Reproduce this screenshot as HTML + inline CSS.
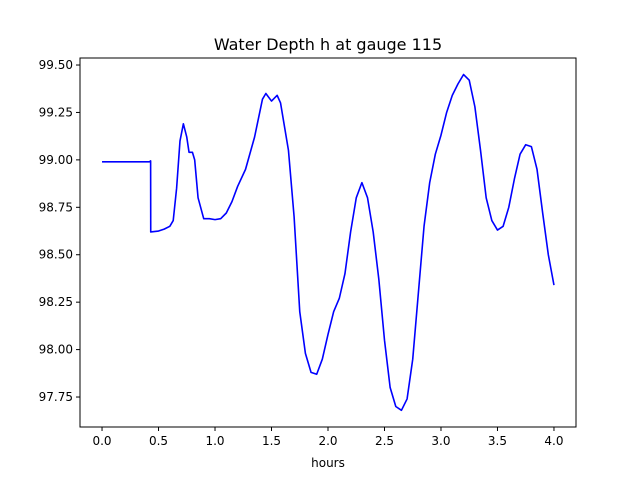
<!DOCTYPE html>
<html><head><meta charset="utf-8"><style>
body{margin:0;background:#fff;}
svg text{font-family:"DejaVu Sans","Liberation Sans",sans-serif;}
</style></head><body>
<svg id="chart" width="640" height="480" xmlns="http://www.w3.org/2000/svg">
<rect width="640" height="480" fill="#fff"/>
<text x="328" y="50" font-size="16" text-anchor="middle">Water Depth h at gauge 115</text>
<g id="axes"></g>
<text x="328" y="467" font-size="12" text-anchor="middle">hours</text>
</svg>
<script>
const hours=[0.0,0.42,0.43,0.431,0.5,0.55,0.6,0.63,0.66,0.69,0.72,0.75,0.77,0.8,0.82,0.85,0.9,0.95,1.0,1.05,1.1,1.15,1.2,1.27,1.35,1.42,1.45,1.5,1.55,1.58,1.65,1.7,1.75,1.8,1.85,1.9,1.95,2.0,2.05,2.1,2.15,2.2,2.25,2.3,2.35,2.4,2.45,2.5,2.55,2.6,2.65,2.7,2.75,2.8,2.85,2.9,2.95,3.0,3.05,3.1,3.15,3.2,3.25,3.3,3.35,3.4,3.45,3.5,3.55,3.6,3.65,3.7,3.75,3.8,3.85,3.9,3.95,4.0];
const depth=[98.99,98.99,98.995,98.62,98.625,98.635,98.65,98.68,98.85,99.1,99.19,99.12,99.04,99.04,99.0,98.8,98.69,98.69,98.685,98.69,98.72,98.78,98.86,98.95,99.12,99.32,99.35,99.31,99.34,99.30,99.05,98.7,98.2,97.98,97.88,97.87,97.95,98.08,98.2,98.27,98.4,98.62,98.8,98.88,98.8,98.62,98.37,98.05,97.8,97.7,97.68,97.74,97.95,98.3,98.65,98.88,99.03,99.13,99.25,99.34,99.40,99.45,99.42,99.28,99.05,98.8,98.68,98.63,98.65,98.75,98.9,99.03,99.08,99.07,98.95,98.72,98.5,98.34];
const xTicks=[0.0,0.5,1.0,1.5,2.0,2.5,3.0,3.5,4.0];
const yTicks=[97.75,98.00,98.25,98.50,98.75,99.00,99.25,99.50];
const L=80,R=576,T=58,B=427;
const xmin=-0.195,xmax=4.195,ymin=97.592,ymax=99.537;
const sx=v=>L+(v-xmin)/(xmax-xmin)*(R-L);
const sy=v=>B-(v-ymin)/(ymax-ymin)*(B-T);
const NS="http://www.w3.org/2000/svg";
const g=document.getElementById('axes');
function mk(t,a){const e=document.createElementNS(NS,t);for(const k in a)e.setAttribute(k,a[k]);g.appendChild(e);return e;}
let d=hours.map((h,i)=>(i?'L':'M')+sx(h).toFixed(2)+','+sy(depth[i]).toFixed(2)).join('');
const line=mk('path',{d:d,fill:'none',stroke:'#0000ff','stroke-width':1.6,'stroke-linejoin':'round'});


const frame=mk('rect',{x:L,y:T,width:R-L,height:B-T,fill:'none',stroke:'#000','stroke-width':1});


xTicks.forEach(v=>{
  const x=sx(v);
  const tk=mk('line',{x1:x,x2:x,y1:B,y2:B+4,stroke:'#000'});
  
  
  const t=mk('text',{x:x,y:B+18,'font-size':12,'text-anchor':'middle'});
  t.textContent=v.toFixed(1);
  
  
});
yTicks.forEach(v=>{
  const y=sy(v);
  const tk=mk('line',{x1:L-4,x2:L,y1:y,y2:y,stroke:'#000'});
  
  
  const t=mk('text',{x:L-7,y:y+4,'font-size':12,'text-anchor':'end'});
  t.textContent=v.toFixed(2);
  
  
});
</script>
</body></html>
